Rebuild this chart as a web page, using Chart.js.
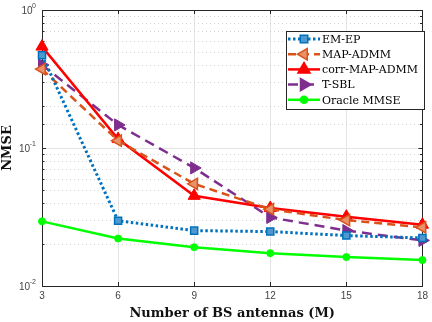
<!DOCTYPE html>
<html>
<head>
<meta charset="utf-8">
<script src="https://cdn.jsdelivr.net/npm/chart.js@4.4.0/dist/chart.umd.min.js"></script>
<style>
  html, body { margin: 0; padding: 0; background: #fff; }
  #wrap { width: 432px; height: 322px; }
</style>
</head>
<body>
<div id="wrap"><canvas id="myChart" width="432" height="322"></canvas></div>
<script>
// values
const antennas = [3, 6, 9, 12, 15, 18]
const emEp = [0.47, 0.0297, 0.0252, 0.0248, 0.0232, 0.0223]
const mapAdmm = [0.373, 0.113, 0.055, 0.036, 0.030, 0.0266]
const corrMapAdmm = [0.543, 0.116, 0.045, 0.0367, 0.0318, 0.0278]
const tSbl = [0.40, 0.147, 0.0717, 0.0314, 0.0252, 0.0214]
const oracle = [0.0294, 0.0221, 0.0191, 0.0173, 0.0162, 0.0154]
const yExponents = ['0', '-1', '-2']

const axisColor = '#262626'
const labelColor = '#444'

function isDecade(v) {
  const l = Math.log10(v)
  return Math.abs(l - Math.round(l)) < 1e-9
}

function toPoints(arr) {
  return arr.map((v, i) => ({ x: antennas[i], y: v }))
}

function drawMarker(ctx, style, x, y, r, rot, fill, stroke, bw) {
  ctx.save()
  ctx.translate(x, y)
  ctx.rotate(rot * Math.PI / 180)
  ctx.beginPath()
  if (style === 'triangle') {
    ctx.moveTo(0, -r)
    ctx.lineTo(r * 0.866, r * 0.5)
    ctx.lineTo(-r * 0.866, r * 0.5)
    ctx.closePath()
  } else if (style === 'rect') {
    const s = r * 0.75
    ctx.rect(-s, -s, 2 * s, 2 * s)
  } else {
    ctx.arc(0, 0, r, 0, Math.PI * 2)
  }
  ctx.fillStyle = fill
  ctx.fill()
  ctx.lineWidth = bw
  ctx.strokeStyle = stroke
  ctx.stroke()
  ctx.restore()
}

// grid, box, inward ticks, 10^n labels
const framePlugin = {
  id: 'frame',
  beforeDatasetsDraw(chart) {
    const ctx = chart.ctx
    const a = chart.chartArea
    const ys = chart.scales.y
    const xs = chart.scales.x
    ctx.save()
    ctx.strokeStyle = '#d2d2d2'
    ctx.lineWidth = 1
    ctx.setLineDash([1, 3])
    ys.ticks.forEach((t) => {
      if (isDecade(t.value)) return
      const py = Math.round(ys.getPixelForValue(t.value)) + 0.5
      ctx.beginPath()
      ctx.moveTo(a.left, py)
      ctx.lineTo(a.right, py)
      ctx.stroke()
    })
    ctx.setLineDash([])
    ctx.strokeStyle = axisColor
    ctx.lineWidth = 1
    ys.ticks.forEach((t) => {
      const py = Math.round(ys.getPixelForValue(t.value)) + 0.5
      const len = isDecade(t.value) ? 4 : 2.5
      ctx.beginPath()
      ctx.moveTo(a.left, py); ctx.lineTo(a.left + len, py)
      ctx.moveTo(a.right, py); ctx.lineTo(a.right - len, py)
      ctx.stroke()
    })
    xs.ticks.forEach((t) => {
      const px = Math.round(xs.getPixelForValue(t.value)) + 0.5
      ctx.beginPath()
      ctx.moveTo(px, a.bottom); ctx.lineTo(px, a.bottom - 4)
      ctx.moveTo(px, a.top); ctx.lineTo(px, a.top + 4)
      ctx.stroke()
    })
    ctx.strokeRect(Math.round(a.left) + 0.5, Math.round(a.top) + 0.5,
      Math.round(a.right - a.left), Math.round(a.bottom - a.top))

    // y labels as 10 with a raised exponent
    ctx.fillStyle = labelColor
    ctx.textBaseline = 'middle'
    yExponents.forEach((e) => {
      const py = ys.getPixelForValue(Math.pow(10, Number(e)))
      const supW = e.length > 1 ? 6 : 3.5
      ctx.font = '7px "Liberation Sans"'
      ctx.textAlign = 'right'
      ctx.fillText(e, a.left - 6, py - 4)
      ctx.font = '10px "Liberation Sans"'
      ctx.fillText('10', a.left - 6 - supW, py + 1)
    })
    ctx.restore()
  },
  afterDraw(chart) {
    // boxed legend, top right like the MATLAB one
    const ctx = chart.ctx
    const bx = 286, by = 31, bw = 138, bh = 78
    ctx.save()
    ctx.fillStyle = '#fff'
    ctx.fillRect(bx, by, bw, bh)
    ctx.strokeStyle = axisColor
    ctx.lineWidth = 1
    ctx.strokeRect(bx + 0.5, by + 0.5, bw, bh)
    ctx.font = '11px "DejaVu Serif"'
    ctx.textBaseline = 'middle'
    chart.data.datasets.forEach((ds, i) => {
      const yy = by + 8 + i * 15.2
      ctx.strokeStyle = ds.borderColor
      ctx.lineWidth = ds.borderWidth
      ctx.setLineDash(ds.borderDash || [])
      ctx.beginPath()
      ctx.moveTo(bx + 2, yy)
      ctx.lineTo(bx + 34, yy)
      ctx.stroke()
      ctx.setLineDash([])
      drawMarker(ctx, ds.pointStyle, bx + 18, yy, ds.pointRadius, ds.rotation || 0,
        ds.pointBackgroundColor, ds.borderColor, 1.5)
      ctx.fillStyle = '#000'
      ctx.fillText(ds.label, bx + 36, yy + 1)
    })
    ctx.restore()
  }
}

const ctx = document.getElementById('myChart').getContext('2d')

const chart = new Chart(ctx, {
  type: 'line',
  data: {
    datasets: [
      {
        label: 'EM-EP',
        data: toPoints(emEp),
        borderColor: '#0072BD',
        backgroundColor: '#0072BD',
        pointBackgroundColor: '#4f98cf',
        borderWidth: 3,
        borderDash: [2.5, 2.5],
        pointStyle: 'rect',
        pointRadius: 5,
        pointBorderWidth: 1.5
      },
      {
        label: 'MAP-ADMM',
        data: toPoints(mapAdmm),
        borderColor: '#D95319',
        backgroundColor: '#D95319',
        pointBackgroundColor: '#e8916b',
        borderWidth: 2.5,
        borderDash: [8, 5],
        pointStyle: 'triangle',
        rotation: -90,
        pointRotation: -90,
        pointRadius: 6.5,
        pointBorderWidth: 1.5
      },
      {
        label: 'corr-MAP-ADMM',
        data: toPoints(corrMapAdmm),
        borderColor: '#FF0000',
        backgroundColor: '#FF0000',
        pointBackgroundColor: '#FF0000',
        borderWidth: 2.5,
        pointStyle: 'triangle',
        pointRadius: 7,
        pointBorderWidth: 1
      },
      {
        label: 'T-SBL',
        data: toPoints(tSbl),
        borderColor: '#7E2F8E',
        backgroundColor: '#7E2F8E',
        pointBackgroundColor: '#7E2F8E',
        borderWidth: 2.5,
        borderDash: [10, 6],
        pointStyle: 'triangle',
        rotation: 90,
        pointRotation: 90,
        pointRadius: 7,
        pointBorderWidth: 1
      },
      {
        label: 'Oracle MMSE',
        data: toPoints(oracle),
        borderColor: '#00FF00',
        backgroundColor: '#00FF00',
        pointBackgroundColor: '#00FF00',
        borderWidth: 2.5,
        pointStyle: 'circle',
        pointRadius: 3.5,
        pointBorderWidth: 1
      }
    ]
  },
  options: {
    responsive: false,
    animation: false,
    clip: false,
    layout: { padding: { top: 7, right: 8, left: 0, bottom: 0 } },
    plugins: {
      legend: { display: false },
      tooltip: { enabled: false }
    },
    scales: {
      x: {
        type: 'linear',
        min: 3,
        max: 18,
        afterFit(scale) { scale.height = 36 },
        ticks: {
          stepSize: 3,
          color: labelColor,
          padding: 4,
          font: { family: '"Liberation Sans"', size: 10 }
        },
        grid: { color: '#e4e4e4', drawTicks: false },
        border: { display: false },
        title: {
          display: true,
          text: 'Number of BS antennas (M)',
          color: '#111',
          padding: { top: 0, bottom: 1 },
          font: { family: '"DejaVu Serif"', size: 13, weight: 'bold' }
        }
      },
      y: {
        type: 'logarithmic',
        min: 0.01,
        max: 1,
        afterFit(scale) { scale.width = 42 },
        ticks: {
          autoSkip: false,
          padding: 4,
          font: { size: 10 },
          callback() { return '' }
        },
        grid: {
          drawTicks: false,
          color(c) { return c.tick && isDecade(c.tick.value) ? '#e4e4e4' : 'rgba(0,0,0,0)' }
        },
        border: { display: false },
        title: {
          display: true,
          text: 'NMSE',
          color: '#111',
          padding: { top: 0, bottom: 2 },
          font: { family: '"DejaVu Serif"', size: 13, weight: 'bold' }
        }
      }
    }
  },
  plugins: [framePlugin]
})
</script>
</body>
</html>
